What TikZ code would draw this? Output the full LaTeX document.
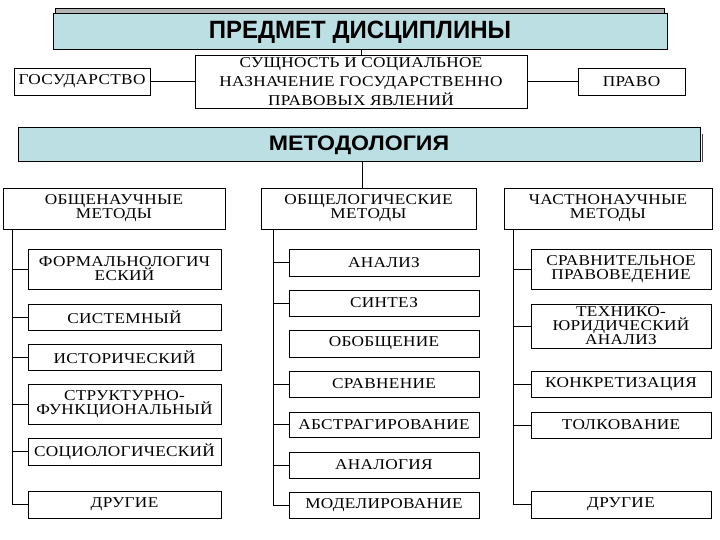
\documentclass[tikz,border=0pt]{standalone}
\usepackage{fontspec}
\setmainfont{Liberation Serif}[FakeStretch=1.15,LetterSpace=2]
\newfontfamily\headfont{Liberation Sans}[FakeStretch=0.96]
\newfontfamily\headfontw{Liberation Sans}[FakeStretch=1.1]
\usetikzlibrary{calc}
\definecolor{titleblue}{RGB}{188,223,227}
\definecolor{stripgray}{RGB}{180,180,180}
\begin{document}
\begin{tikzpicture}[x=1pt,y=-1pt,
  box/.style={draw=black, line width=0.9pt, fill=white, inner sep=0pt, align=center,
    font=\fontsize{15}{14}\selectfont},
  titlebox/.style={draw=black, line width=1pt, fill=titleblue, inner sep=0pt},
  conn/.style={line width=0.9pt}]
\useasboundingbox[fill=white] (0,0) rectangle (720,540);

% top part
\node[draw=black, line width=0.8pt, fill=stripgray, inner sep=0pt, minimum width=609, minimum height=6] (strip) at (359.5,11) {};
\node[titlebox, minimum width=614, minimum height=36] (title) at (360,32)
  {\headfont\bfseries\fontsize{25}{25}\selectfont ПРЕДМЕТ ДИСЦИПЛИНЫ};
\node[box, minimum width=332, minimum height=53, font=\fontsize{15}{19}\selectfont] (center) at (361,81.5)
  {СУЩНОСТЬ И СОЦИАЛЬНОЕ\\НАЗНАЧЕНИЕ ГОСУДАРСТВЕННО\\ПРАВОВЫХ ЯВЛЕНИЙ};
\node[box, minimum width=136, minimum height=27] (gos) at (82,81.5) {ГОСУДАРСТВО};
\node[box, minimum width=107, minimum height=27] (pravo) at (631.5,81.5) {ПРАВО};
\draw[conn] (center.north) -- (center.north |- title.south);
\draw[conn] (gos.east) -- (center.west |- gos.east);
\draw[conn] (pravo.west) -- (center.east |- pravo.west);

% methodology
\node[titlebox, minimum width=682, minimum height=34] (metod) at (359,145)
  {\headfontw\bfseries\fontsize{21}{21}\selectfont МЕТОДОЛОГИЯ};
\draw[line width=1pt, black!75] ($(metod.north east)+(2,7)$) -- ($(metod.south east)+(2,0)$);

% column headers
\node[box, minimum width=222, minimum height=41] (h1) at (114,208.5) {ОБЩЕНАУЧНЫЕ\\МЕТОДЫ};
\node[box, minimum width=215, minimum height=41] (h2) at (368.5,208.5) {ОБЩЕЛОГИЧЕСКИЕ\\МЕТОДЫ};
\node[box, minimum width=208, minimum height=41] (h3) at (608,208.5) {ЧАСТНОНАУЧНЫЕ\\МЕТОДЫ};
\coordinate (m2) at (362,188);
\draw[conn] (m2 |- metod.south) -- (m2);

% left column
\node[box, minimum width=193, minimum height=40] (a1) at (124.5,269) {ФОРМАЛЬНОЛОГИЧ\\ЕСКИЙ};
\node[box, minimum width=193, minimum height=26] (a2) at (124.5,317) {СИСТЕМНЫЙ};
\node[box, minimum width=193, minimum height=26] (a3) at (124.5,357) {ИСТОРИЧЕСКИЙ};
\node[box, minimum width=193, minimum height=40] (a4) at (124.5,404) {СТРУКТУРНО-\\ФУНКЦИОНАЛЬНЫЙ};
\node[box, minimum width=193, minimum height=27] (a5) at (124.5,451.5) {СОЦИОЛОГИЧЕСКИЙ};
\node[box, minimum width=193, minimum height=27] (a6) at (124.5,504.5) {ДРУГИЕ};
\coordinate (t1) at (12,229);
\draw[conn] (t1) |- (a6.west);
\foreach \n in {a1,a2,a3,a4,a5} \draw[conn] (t1 |- \n.west) -- (\n.west);

% middle column
\node[box, minimum width=190, minimum height=27] (b1) at (384,262.5) {АНАЛИЗ};
\node[box, minimum width=190, minimum height=26] (b2) at (384,303) {СИНТЕЗ};
\node[box, minimum width=190, minimum height=27] (b3) at (384,343.5) {ОБОБЩЕНИЕ};
\node[box, minimum width=190, minimum height=26] (b4) at (384,384) {СРАВНЕНИЕ};
\node[box, minimum width=190, minimum height=25] (b5) at (384,424.5) {АБСТРАГИРОВАНИЕ};
\node[box, minimum width=190, minimum height=26] (b6) at (384,465) {АНАЛОГИЯ};
\node[box, minimum width=190, minimum height=26] (b7) at (384,505) {МОДЕЛИРОВАНИЕ};
\coordinate (t2) at (273,229);
\draw[conn] (t2) |- (b7.west);
\foreach \n in {b1,b2,b4,b5,b6} \draw[conn] (t2 |- \n.west) -- (\n.west);

% right column
\node[box, minimum width=180, minimum height=40] (c1) at (621,269) {СРАВНИТЕЛЬНОЕ\\ПРАВОВЕДЕНИЕ};
\node[box, minimum width=180, minimum height=44] (c2) at (621,326) {ТЕХНИКО-\\ЮРИДИЧЕСКИЙ\\АНАЛИЗ};
\node[box, minimum width=180, minimum height=26] (c3) at (621,384) {КОНКРЕТИЗАЦИЯ};
\node[box, minimum width=180, minimum height=26] (c4) at (621,425) {ТОЛКОВАНИЕ};
\node[box, minimum width=180, minimum height=27] (c5) at (621,504.5) {ДРУГИЕ};
\coordinate (t3) at (513,229);
\draw[conn] (t3) |- (c5.west);
\foreach \n in {c1,c2,c3,c4} \draw[conn] (t3 |- \n.west) -- (\n.west);
\end{tikzpicture}
\end{document}
